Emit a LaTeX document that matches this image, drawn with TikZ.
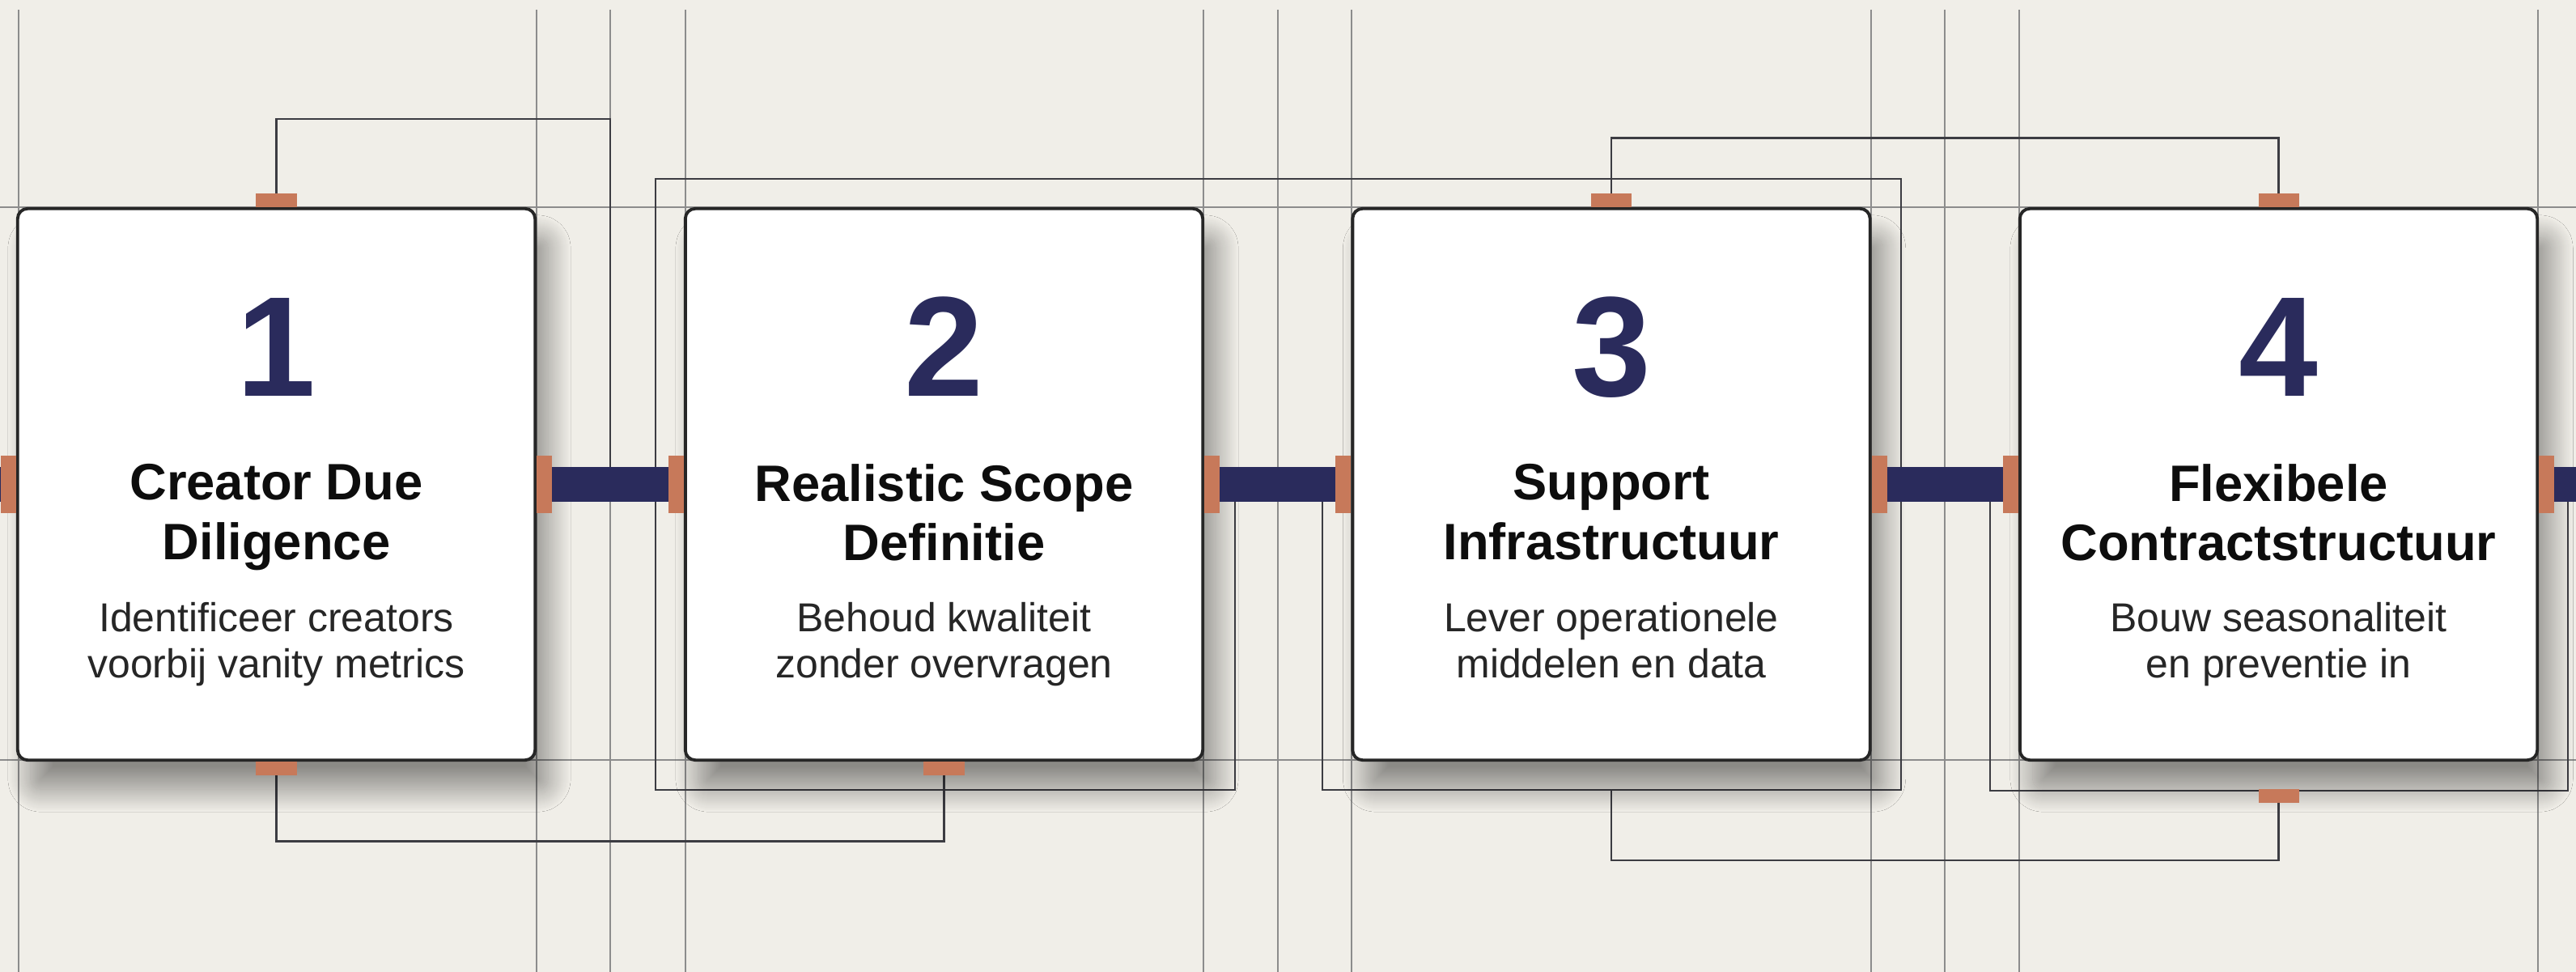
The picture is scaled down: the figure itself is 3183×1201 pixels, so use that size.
\documentclass[tikz,border=0pt]{standalone}
\usepackage{fontspec}
\setmainfont{Liberation Sans}
\usetikzlibrary{positioning,backgrounds,shadows.blur}

\definecolor{paper}{RGB}{240,238,232}
\definecolor{navy}{RGB}{42,43,92}
\definecolor{copper}{RGB}{199,121,90}
\definecolor{wirecol}{RGB}{60,60,66}
\definecolor{gridcol}{RGB}{140,140,140}

\tikzset{
  card/.style={draw=black!85, line width=1.1pt, fill=white, rounded corners=3.5pt,
    minimum width=6.39cm, minimum height=6.81cm, inner sep=0pt,
    blur shadow={shadow xshift=0.16cm, shadow yshift=-0.36cm,
      shadow blur radius=0.28cm, shadow blur steps=28, shadow opacity=42}},
  num/.style={anchor=base, inner sep=0pt, text=navy,
    font=\fontsize{50}{50}\selectfont\bfseries},
  title/.style={anchor=north, inner sep=0pt, align=center, text=black!95,
    font=\fontsize{18}{20.8}\selectfont\bfseries},
  desc/.style={anchor=north, inner sep=0pt, align=center, text=black!85,
    font=\fontsize{14.2}{16.2}\selectfont},
  padh/.style={fill=copper, minimum width=0.5cm, minimum height=0.17cm, inner sep=0pt, outer sep=0pt},
  padv/.style={fill=copper, minimum width=0.19cm, minimum height=0.7cm, inner sep=0pt, outer sep=0pt},
  bus/.style={draw=navy, line width=0.42cm},
  wire/.style={draw=wirecol, line width=0.8pt},
  guide/.style={draw=gridcol, line width=0.45pt}
}

\begin{document}
\begin{tikzpicture}[x=0.01cm, y=-0.01cm]
  \useasboundingbox (0,0) rectangle (3183,1201);

  % the four steps
  \node[card] (s1) at (341.5,598.5) {};
  \node[card] (s2) at (1166.5,598.5) {};
  \node[card] (s3) at (1991,598.5) {};
  \node[card] (s4) at (2815.5,598.5) {};

  \node[num] (n1) at ([yshift=-2.34cm]s1.north) {1};
  \node[num] (n2) at ([yshift=-2.34cm]s2.north) {2};
  \node[num] (n3) at ([yshift=-2.34cm]s3.north) {3};
  \node[num] (n4) at ([yshift=-2.34cm]s4.north) {4};

  \node[title] (h1) at ([yshift=-3.17cm]s1.north) {Creator Due\\Diligence};
  \node[title] (h2) at ([yshift=-3.17cm]s2.north) {Realistic Scope\\Definitie};
  \node[title] (h3) at ([yshift=-3.17cm]s3.north) {Support\\Infrastructuur};
  \node[title] (h4) at ([yshift=-3.17cm]s4.north) {Flexibele\\Contractstructuur};

  \node[desc] (d1) at ([yshift=-4.87cm]s1.north) {Identificeer creators\\voorbij vanity metrics};
  \node[desc] (d2) at ([yshift=-4.87cm]s2.north) {Behoud kwaliteit\\zonder overvragen};
  \node[desc] (d3) at ([yshift=-4.87cm]s3.north) {Lever operationele\\middelen en data};
  \node[desc] (d4) at ([yshift=-4.87cm]s4.north) {Bouw seasonaliteit\\en preventie in};

  % copper pads
  \begin{scope}[every node/.style={padv}]
    \node[left=0pt of s1.west] (p1w) {};
    \node[right=0pt of s1.east] (p1e) {};
    \node[left=0pt of s2.west] (p2w) {};
    \node[right=0pt of s2.east] (p2e) {};
    \node[left=0pt of s3.west] (p3w) {};
    \node[right=0pt of s3.east] (p3e) {};
    \node[left=0pt of s4.west] (p4w) {};
    \node[right=0pt of s4.east] (p4e) {};
  \end{scope}
  \begin{scope}[every node/.style={padh}]
    \node[above=0pt of s1.north] (p1n) {};
    \node[below=0pt of s1.south] (p1s) {};
    \node[below=0pt of s2.south] (p2s) {};
    \node[above=0pt of s3.north] (p3n) {};
    \node[above=0pt of s4.north] (p4n) {};
    \node[below=0.34cm of s4.south] (p4s) {};
  \end{scope}

  % navy bus between the pads
  \coordinate (busin) at (0,597);
  \coordinate (busout) at (3183,597);
  \path[bus] (p1w.west -| busin) -- (p1w.west);
  \path[bus] (p1e.east) -- (p2w.west);
  \path[bus] (p2e.east) -- (p3w.west);
  \path[bus] (p3e.east) -- (p4w.west);
  \path[bus] (p4e.east) -- (p4e.east -| busout);

  \begin{scope}[on background layer]
    \fill[paper] (0,0) rectangle (3183,1201);
    \foreach \gx in {23,663,754,847,1487,1579,1670,2312,2403,2495,3136}
      \path[guide] (\gx,12) -- (\gx,1201);
    \foreach \gy in {256,939}
      \path[guide] (0,\gy) -- (3183,\gy);

    \coordinate (j12) at (754,590);
    \coordinate (k23a) at (1526,600);
    \coordinate (k23b) at (1634,600);
    \coordinate (k34a) at (2459,600);
    \coordinate (k34b) at (3173,600);
    \coordinate (j3) at (p3n.south |- 0,976);

    \path[wire] (p1n.north) |- (j12 |- 0,147) -- (j12);
    \path[wire] (p1s.south) -- ++(0,81) -| (p2s.south);
    \path[wire] (k23a) |- (810,976) |- (2349,221) |- (k23b |- 0,976) -- (k23b);
    \path[wire] (p3n.north) -- ++(0,-68) -| (p4n.north);
    \path[wire] (j3) -- ++(0,87) -| (p4s.south);
    \path[wire] (k34a) |- (k34b |- 0,977) -- (k34b);
  \end{scope}
\end{tikzpicture}
\end{document}
